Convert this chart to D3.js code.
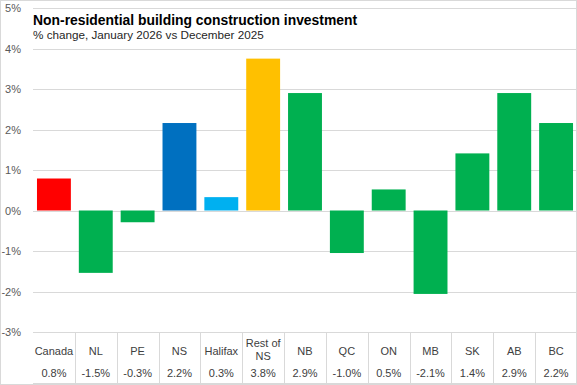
<!DOCTYPE html>
<html>
<head>
<meta charset="utf-8">
<script src="https://cdn.jsdelivr.net/npm/d3@7"></script>
<style>
	body { margin: 0; background: #fff; }
	text { font-family: "Liberation Sans", Arial, sans-serif; }
</style>
</head>
<body>
<div id="chart"></div>
<script>
// ---- data
const categories = ["Canada", "NL", "PE", "NS", "Halifax", "Rest of NS", "NB", "QC", "ON", "MB", "SK", "AB", "BC"];
// bar heights, table labels as printed in the table
const values = [0.79, -1.54, -0.29, 2.16, 0.33, 3.75, 2.9, -1.05, 0.52, -2.06, 1.41, 2.9, 2.16];
const valueLabels = ["0.8%", "-1.5%", "-0.3%", "2.2%", "0.3%", "3.8%", "2.9%", "-1.0%", "0.5%", "-2.1%", "1.4%", "2.9%", "2.2%"];
const barColors = ["#ff0000", "#00b050", "#00b050", "#0070c0", "#00b0f0", "#ffc000", "#00b050", "#00b050", "#00b050", "#00b050", "#00b050", "#00b050", "#00b050"];
const yTicks = [-3, -2, -1, 0, 1, 2, 3, 4, 5];

const width = 577, height = 385;
const plotLeft = 33, plotRight = 577, plotTop = 8, plotBottom = 332;

const svg = d3.select("#chart").append("svg")
	.attr("width", width)
	.attr("height", height);

// outer frame
svg.append("rect")
	.attr("x", 0.5).attr("y", 0.5)
	.attr("width", width - 1).attr("height", height - 1)
	.attr("fill", "#fff").attr("stroke", "#d9d9d9");

const x = d3.scaleBand().domain(categories).range([plotLeft, plotRight]).paddingInner(0.19).paddingOuter(0.095);
const xCell = d3.scaleBand().domain(categories).range([plotLeft, plotRight]);
const y = d3.scaleLinear().domain([-3, 5]).range([plotBottom, plotTop]);

//------- gridlines
svg.append("g").selectAll("line").data(yTicks).join("line")
	.attr("x1", plotLeft).attr("x2", plotRight)
	.attr("y1", d => Math.round(y(d)) + 0.5).attr("y2", d => Math.round(y(d)) + 0.5)
	.attr("stroke", "#d9d9d9").attr("stroke-width", 1);

//------- y axis labels
const yAxis = d3.axisLeft(y).tickValues(yTicks).tickSize(0).tickPadding(6).tickFormat(d => d + "%");
svg.append("g")
	.attr("transform", `translate(${plotLeft - 6},0)`)
	.call(yAxis)
	.call(g => g.select(".domain").remove())
	.call(g => g.selectAll("text").attr("fill", "#595959").attr("font-size", 11)
		.style("font-family", "'Liberation Sans', Arial, sans-serif"));

//------- bars
svg.append("g").selectAll("rect").data(values).join("rect")
	.attr("x", (d, i) => x(categories[i]))
	.attr("width", x.bandwidth())
	.attr("y", d => y(Math.max(0, d)))
	.attr("height", d => Math.abs(y(d) - y(0)))
	.attr("fill", (d, i) => barColors[i]);

//------- data table under the chart
const table = svg.append("g");
table.append("line")
	.attr("x1", plotLeft).attr("x2", plotRight)
	.attr("y1", 383.5).attr("y2", 383.5)
	.attr("stroke", "#d9d9d9");
table.selectAll(".sep").data(categories.slice(1)).join("line")
	.attr("class", "sep")
	.attr("x1", d => Math.round(xCell(d)) + 0.5).attr("x2", d => Math.round(xCell(d)) + 0.5)
	.attr("y1", plotBottom).attr("y2", 384)
	.attr("stroke", "#d9d9d9");

table.selectAll(".cat").data(categories).join("text")
	.attr("class", "cat")
	.attr("x", d => xCell(d) + xCell.bandwidth() / 2)
	.attr("text-anchor", "middle")
	.attr("font-size", 11)
	.attr("fill", "#404040")
	.each(function (d) {
		const t = d3.select(this);
		if (d === "Rest of NS") {
			t.append("tspan").attr("x", xCell(d) + xCell.bandwidth() / 2).attr("y", 347).text("Rest of");
			t.append("tspan").attr("x", xCell(d) + xCell.bandwidth() / 2).attr("y", 360).text("NS");
		} else {
			t.attr("y", 355).text(d);
		}
	});

table.selectAll(".val").data(valueLabels).join("text")
	.attr("class", "val")
	.attr("x", (d, i) => xCell(categories[i]) + xCell.bandwidth() / 2)
	.attr("y", 377)
	.attr("text-anchor", "middle")
	.attr("font-size", 11)
	.attr("fill", "#404040")
	.text(d => d);

//------- titles
svg.append("text")
	.attr("x", plotLeft).attr("y", 25)
	.attr("font-size", 13.9).attr("font-weight", "bold")
	.attr("fill", "#000")
	.text("Non-residential building construction investment");
svg.append("text")
	.attr("x", plotLeft).attr("y", 39)
	.attr("font-size", 11.7)
	.attr("fill", "#262626")
	.text("% change, January 2026 vs December 2025");
</script>
</body>
</html>
